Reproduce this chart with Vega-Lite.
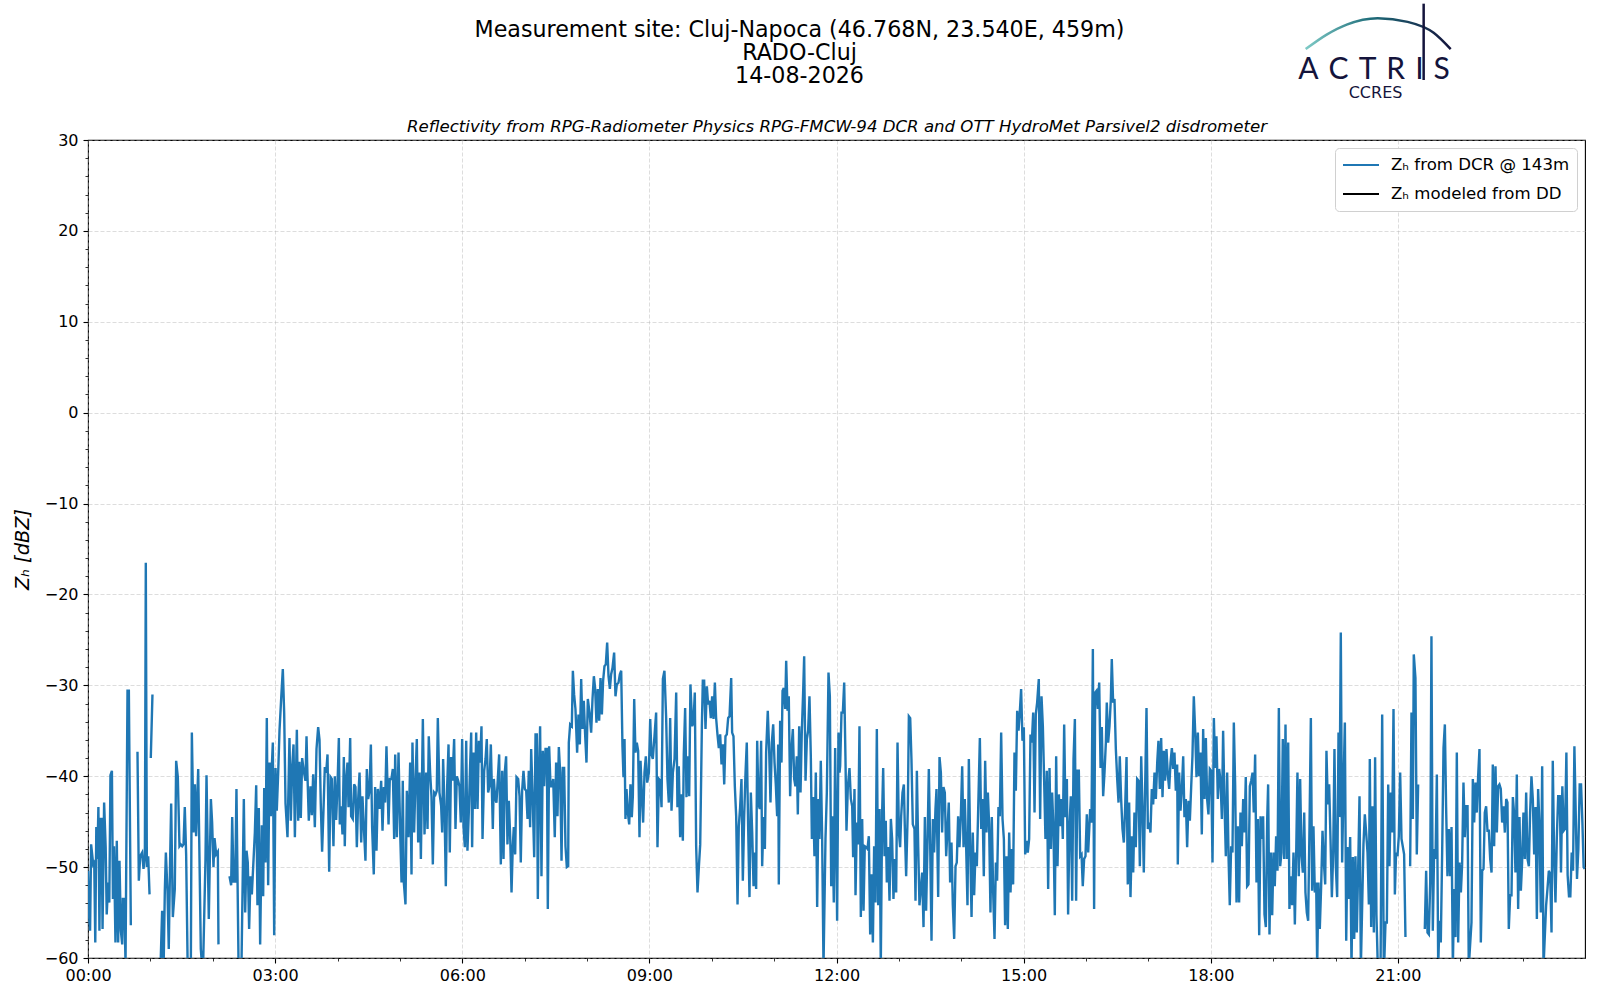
{
  "$schema": "https://vega.github.io/schema/vega-lite/v6.json",
  "width": 1497,
  "height": 818,
  "autosize": {"type": "none"},
  "padding": {"left": 88, "top": 140, "right": 15, "bottom": 42},
  "background": "white",
  "title": {
    "text": ["Measurement site: Cluj-Napoca (46.768N, 23.540E, 459m)", "RADO-Cluj", "14-08-2026"],
    "font": "DejaVu Sans",
    "fontSize": 22.2,
    "fontWeight": "normal",
    "lineHeight": 23,
    "color": "black",
    "anchor": "middle",
    "frame": "group",
    "dx": -37,
    "offset": -85
  },
  "config": {
    "font": "DejaVu Sans",
    "view": {"stroke": "black", "strokeWidth": 1.1},
    "axis": {
      "labelFont": "DejaVu Sans",
      "titleFont": "DejaVu Sans",
      "labelColor": "black",
      "titleColor": "black",
      "tickColor": "black",
      "domain": false,
      "gridColor": "#b0b0b0",
      "gridOpacity": 0.55,
      "gridDash": [4, 2],
      "gridWidth": 0.8
    },
    "legend": {
      "orient": "top-right",
      "offset": 8,
      "fillColor": "white",
      "strokeColor": "#d0d0d0",
      "cornerRadius": 4,
      "padding": 7,
      "symbolType": "stroke",
      "symbolSize": 1296,
      "symbolStrokeWidth": 2,
      "clipHeight": 20,
      "rowPadding": 9,
      "labelFont": "DejaVu Sans",
      "labelFontSize": 16.6,
      "labelColor": "black",
      "labelOffset": 11,
      "labelLimit": 400
    }
  },
  "datasets": {
    "dcr": [
      {"t":0,"z":-50.4},{"t":1,"z":-55.2},{"t":2,"z":-57},{"t":3,"z":-47.5},{"t":5,"z":-49.7},{"t":6,"z":-49.5},{"t":7,"z":-58.3},{"t":8,"z":-45.6},{"t":9,"z":-49.1},{"t":10,"z":-43.4},
      {"t":11,"z":-57},{"t":12,"z":-44.7},{"t":13,"z":-44.7},{"t":14,"z":-56.8},{"t":15.5,"z":-42.9},{"t":17,"z":-47.8},{"t":18,"z":-55.2},{"t":19.4,"z":-51.7},{"t":20.5,"z":-53.9},{"t":21.6,"z":-39.9},
      {"t":23,"z":-39.4},{"t":24,"z":-53.5},{"t":25,"z":-47.7},{"t":26.4,"z":-58.3},{"t":27.7,"z":-47.1},{"t":29,"z":-58.3},{"t":30.3,"z":-49.3},{"t":31.6,"z":-57},{"t":32.9,"z":-58.5},{"t":33.5,"z":-53.5},
      {"t":34.8,"z":-53.5},{"t":36.1,"z":-60.5},{"t":38,"z":-30.6},{"t":39.3,"z":-30.6},{"t":41.2,"z":-56.4},{"t":42,"z":null},{"t":47.6,"z":-37.3},{"t":48.9,"z":-51.5},{"t":50.2,"z":-48.8},{"t":52.1,"z":-48.4},
      {"t":53.4,"z":-50.2},{"t":54.7,"z":-48.8},{"t":55.6,"z":-16.5},{"t":56.6,"z":-50},{"t":57.9,"z":-48.8},{"t":59.2,"z":-53},{"t":60,"z":null},{"t":60.4,"z":-38},{"t":62,"z":-31},{"t":62.5,"z":null},
      {"t":69.5,"z":-62},{"t":71.3,"z":-54.8},{"t":72.6,"z":-62},{"t":73.9,"z":-52.6},{"t":74.9,"z":-48.4},{"t":76.5,"z":-52.8},{"t":77.7,"z":-59},{"t":79,"z":-49.1},{"t":80,"z":-43},{"t":81.6,"z":-55.5},
      {"t":83.5,"z":-52.4},{"t":84.8,"z":-38.3},{"t":86.4,"z":-40.1},{"t":88,"z":-47.7},{"t":89.3,"z":-47.5},{"t":90.6,"z":-47.7},{"t":91.9,"z":-47.5},{"t":93.1,"z":-43.4},{"t":94.4,"z":-48.6},{"t":96,"z":-62},
      {"t":98.9,"z":-62},{"t":99.9,"z":-35.2},{"t":101.5,"z":-46.2},{"t":102.8,"z":-40.9},{"t":104,"z":-46.6},{"t":106,"z":-39.2},{"t":108.5,"z":-59},{"t":110.5,"z":-62},{"t":113,"z":-49.2},{"t":114,"z":-39.9},
      {"t":116.2,"z":-55.7},{"t":118.2,"z":-42.5},{"t":119.4,"z":-45.1},{"t":120.7,"z":-50},{"t":121.7,"z":-46.8},{"t":123.3,"z":-48.6},{"t":124.9,"z":-48.3},{"t":125.5,"z":-58.5},{"t":126,"z":null},{"t":136.1,"z":-51},
      {"t":137.7,"z":-52},{"t":138.7,"z":-44.5},{"t":140,"z":-51.6},{"t":141.6,"z":-51.6},{"t":142.8,"z":-41.4},{"t":144.8,"z":-60.5},{"t":147.5,"z":-62},{"t":149.9,"z":-42.5},{"t":151.2,"z":-55},{"t":152.5,"z":-48.2},
      {"t":153.7,"z":-49.5},{"t":155,"z":-56.8},{"t":156.3,"z":-51},{"t":157.6,"z":-53},{"t":160.5,"z":-46.2},{"t":161.8,"z":-41},{"t":163,"z":-54.2},{"t":164.3,"z":-43.5},{"t":165.6,"z":-58.5},{"t":167.2,"z":-45.4},
      {"t":168.5,"z":-53.2},{"t":169.5,"z":-41.3},{"t":170.7,"z":-49.5},{"t":172,"z":-33.6},{"t":173.3,"z":-52},{"t":174.6,"z":-38.5},{"t":175.9,"z":-44.4},{"t":176.8,"z":-39},{"t":177.8,"z":-36.3},{"t":179.1,"z":-57.5},
      {"t":180.4,"z":-39.1},{"t":181.6,"z":-43.8},{"t":182.9,"z":-39.8},{"t":184.2,"z":-35},{"t":185.8,"z":-31.5},{"t":187.4,"z":-28.2},{"t":188.7,"z":-33},{"t":190,"z":-43},{"t":191.9,"z":-46.7},{"t":193.8,"z":-35.8},
      {"t":195.1,"z":-44.9},{"t":196.4,"z":-39},{"t":197.7,"z":-36.5},{"t":199,"z":-46.7},{"t":200.9,"z":-34.9},{"t":202.2,"z":-44.9},{"t":203.4,"z":-38.4},{"t":204.7,"z":-44.6},{"t":206,"z":-38},{"t":207.6,"z":-39.5},
      {"t":209.2,"z":-40.5},{"t":210.2,"z":-35.6},{"t":211.1,"z":-39.9},{"t":212.4,"z":-44.9},{"t":214,"z":-41.1},{"t":215.3,"z":-44.3},{"t":216.6,"z":-39.8},{"t":218.2,"z":-45.6},{"t":219.8,"z":-37},{"t":221.4,"z":-34.6},
      {"t":222.7,"z":-36},{"t":223.9,"z":-43},{"t":225.2,"z":-48.3},{"t":226.5,"z":-43.8},{"t":227.8,"z":-39},{"t":229.1,"z":-39.6},{"t":230.4,"z":-37.6},{"t":232,"z":-50.5},{"t":233.3,"z":-40.1},{"t":234.5,"z":-40.3},
      {"t":236.1,"z":-47.7},{"t":237.4,"z":-40},{"t":238.7,"z":-44.8},{"t":240,"z":-41},{"t":241.3,"z":-35.8},{"t":242.2,"z":-45.3},{"t":243.5,"z":-43.3},{"t":244.8,"z":-46.4},{"t":246.1,"z":-37.9},{"t":247,"z":-47.7},
      {"t":248.3,"z":-40.3},{"t":249.6,"z":-38.5},{"t":250.6,"z":-43.4},{"t":252.2,"z":-35.8},{"t":253.1,"z":-44.4},{"t":254.7,"z":-44.7},{"t":256,"z":-40.9},{"t":257.3,"z":-41.2},{"t":258.6,"z":-47.8},{"t":259.9,"z":-42.5},
      {"t":261.2,"z":-39.6},{"t":262.8,"z":-47.3},{"t":264,"z":-42.2},{"t":265.6,"z":-46.2},{"t":266.9,"z":-49.3},{"t":268.2,"z":-39.2},{"t":269.5,"z":-42.5},{"t":270.8,"z":-41.6},{"t":272.1,"z":-36.5},{"t":273.3,"z":-45.6},
      {"t":274.9,"z":-50.8},{"t":276.2,"z":-41.2},{"t":277.5,"z":-48.2},{"t":278.8,"z":-41.4},{"t":280.4,"z":-43.6},{"t":282,"z":-40.5},{"t":283.3,"z":-46},{"t":284.6,"z":-41.2},{"t":285.8,"z":-42.9},{"t":287.1,"z":-36.7},
      {"t":289.1,"z":-45.3},{"t":290.3,"z":-40.3},{"t":291.9,"z":-40.3},{"t":293.2,"z":-39.2},{"t":294.5,"z":-46.9},{"t":295.5,"z":-37.6},{"t":297.1,"z":-46.7},{"t":298.7,"z":-37.4},{"t":300.3,"z":-46.2},{"t":301.6,"z":-51.7},
      {"t":302.8,"z":-40.5},{"t":303.8,"z":-51.7},{"t":305.4,"z":-54.1},{"t":306.7,"z":-41.6},{"t":308.3,"z":-46.7},{"t":309.9,"z":-38.5},{"t":311.2,"z":-50.8},{"t":312.1,"z":-36.3},{"t":313.7,"z":-46.2},{"t":315,"z":-40.5},
      {"t":316.3,"z":-35.9},{"t":317.6,"z":-47.3},{"t":318.9,"z":-39.6},{"t":320.2,"z":-49.1},{"t":322.1,"z":-33.7},{"t":323.7,"z":-46.4},{"t":325.3,"z":-39.6},{"t":326.6,"z":-45.8},{"t":327.8,"z":-35.6},{"t":329.1,"z":-39.6},
      {"t":330.4,"z":-42.2},{"t":331.7,"z":-49.7},{"t":333,"z":-41.8},{"t":334.3,"z":-42},{"t":335.5,"z":-41.6},{"t":336.5,"z":-33.6},{"t":338.1,"z":-41.8},{"t":339.7,"z":-43.3},{"t":340.7,"z":-46.2},{"t":341.6,"z":-38.1},
      {"t":342.9,"z":-43.3},{"t":344.2,"z":-52.1},{"t":345.5,"z":-41.1},{"t":346.8,"z":-36.5},{"t":348,"z":-48.4},{"t":349.3,"z":-37.9},{"t":350.6,"z":-40.5},{"t":352.2,"z":-35.9},{"t":353.5,"z":-45.8},{"t":354.8,"z":-40},
      {"t":356.1,"z":-40.5},{"t":357.3,"z":-41.1},{"t":358.6,"z":-45.1},{"t":359.9,"z":-35.9},{"t":361.2,"z":-45.5},{"t":362.5,"z":-47.8},{"t":363.8,"z":-36.1},{"t":365,"z":-48.2},{"t":366.3,"z":-44},{"t":367.6,"z":-38.7},
      {"t":368.6,"z":-35.2},{"t":369.5,"z":-47.8},{"t":370.8,"z":-37.4},{"t":372.1,"z":-43.6},{"t":373.4,"z":-35.2},{"t":374.7,"z":-43.6},{"t":376,"z":-36.1},{"t":377.2,"z":-38.5},{"t":378.5,"z":-34.5},{"t":379.5,"z":-46.9},
      {"t":381.1,"z":-39.4},{"t":382.4,"z":-38.1},{"t":383.6,"z":-35.9},{"t":384.9,"z":-41.8},{"t":386.2,"z":-41.1},{"t":387.5,"z":-36.5},{"t":389.4,"z":-45.8},{"t":390.4,"z":-40.3},{"t":391.7,"z":-42.5},{"t":392.9,"z":-42.9},
      {"t":394.2,"z":-40.3},{"t":395.5,"z":-37.6},{"t":397.1,"z":-49.7},{"t":398.4,"z":-39.4},{"t":399.7,"z":-49.1},{"t":400.9,"z":-39.6},{"t":402.2,"z":-37.8},{"t":403.5,"z":-47.5},{"t":404.8,"z":-42.7},{"t":406.1,"z":-46.6},
      {"t":407.4,"z":-52.8},{"t":408.6,"z":-47.7},{"t":409.6,"z":-45.6},{"t":410.9,"z":-48.6},{"t":412.2,"z":-40.1},{"t":413.8,"z":-40.3},{"t":415.1,"z":-42.2},{"t":416.3,"z":-49.5},{"t":417.6,"z":-41.6},{"t":418.9,"z":-39.4},
      {"t":420.2,"z":-41.4},{"t":421.5,"z":-41.6},{"t":422.8,"z":-44.7},{"t":424,"z":-39.4},{"t":425.3,"z":-45.6},{"t":426.3,"z":-37},{"t":427.9,"z":-43.1},{"t":429.2,"z":-48.9},{"t":430.5,"z":-35.4},{"t":431.7,"z":-35.4},
      {"t":432.7,"z":-53.5},{"t":434,"z":-38.7},{"t":434.9,"z":-34.5},{"t":436.2,"z":-51},{"t":437.5,"z":-37.2},{"t":438.8,"z":-41.1},{"t":440.1,"z":-37},{"t":441.4,"z":-37},{"t":442.3,"z":-54.6},{"t":443.6,"z":-36.7},
      {"t":444.9,"z":-41.1},{"t":446.2,"z":-41.1},{"t":447.5,"z":-40.3},{"t":449,"z":-46.7},{"t":450.3,"z":-38.5},{"t":451.6,"z":-44.4},{"t":452.9,"z":-36.8},{"t":454.2,"z":-39.6},{"t":455.5,"z":-49.3},{"t":456.7,"z":-39.1},
      {"t":458,"z":-39.1},{"t":459.3,"z":-47.7},{"t":460.6,"z":-50},{"t":461.9,"z":-49.9},{"t":462.5,"z":-36.3},{"t":463.8,"z":-34.3},{"t":465.4,"z":-34.5},{"t":466.4,"z":-28.4},{"t":467.6,"z":-31},{"t":468.9,"z":-32.6},
      {"t":470.5,"z":-37.4},{"t":471.8,"z":-33.2},{"t":473.1,"z":-36.5},{"t":474.4,"z":-29.3},{"t":475.7,"z":-34.8},{"t":476.9,"z":-31.7},{"t":478.2,"z":-35.4},{"t":479.5,"z":-38.5},{"t":480.8,"z":-31.5},{"t":482.4,"z":-33},
      {"t":484,"z":-35.2},{"t":485.3,"z":-31.5},{"t":486.6,"z":-29},{"t":487.8,"z":-30.3},{"t":489.1,"z":-34.1},{"t":490.4,"z":-30.4},{"t":491.7,"z":-33.9},{"t":493,"z":-29.2},{"t":494.3,"z":-33.2},{"t":495.5,"z":-29.5},
      {"t":496.8,"z":-27.9},{"t":498.1,"z":-27.7},{"t":499.4,"z":-25.3},{"t":500.7,"z":-29},{"t":502,"z":-30.4},{"t":503.2,"z":-28.8},{"t":504.5,"z":-28.1},{"t":506.1,"z":-26.4},{"t":507.4,"z":-31.2},{"t":508.7,"z":-29.9},
      {"t":510.3,"z":-29.7},{"t":511.6,"z":-28.8},{"t":512.9,"z":-28.4},{"t":514.1,"z":-36.7},{"t":515.1,"z":-40.1},{"t":516.1,"z":-35.9},{"t":517,"z":-44.7},{"t":518,"z":-41.4},{"t":519.3,"z":-44},{"t":520.6,"z":-45.3},
      {"t":521.8,"z":-40.9},{"t":523.1,"z":-44.5},{"t":524.1,"z":-42.2},{"t":525.4,"z":-31.5},{"t":526.6,"z":-37.4},{"t":527.9,"z":-36.3},{"t":529.2,"z":-37.2},{"t":530.5,"z":-46.7},{"t":531.5,"z":-38.3},{"t":532.7,"z":-42},
      {"t":534,"z":-45.1},{"t":535.3,"z":-39.6},{"t":536.6,"z":-37.8},{"t":537.9,"z":-40.7},{"t":539.5,"z":-39.6},{"t":540.8,"z":-33.7},{"t":542,"z":-37.6},{"t":543.3,"z":-38.1},{"t":544.9,"z":-35.6},{"t":546.5,"z":-33},
      {"t":547.8,"z":-47.8},{"t":549.1,"z":-40.3},{"t":550.4,"z":-40.5},{"t":551.7,"z":-43.4},{"t":553,"z":-29.3},{"t":554.5,"z":-28.4},{"t":556.1,"z":-33.4},{"t":557.4,"z":-40.3},{"t":558.7,"z":-42.9},{"t":560,"z":-33.6},
      {"t":561.3,"z":-43.8},{"t":562.6,"z":-39.6},{"t":564.2,"z":-38.1},{"t":565.8,"z":-30.8},{"t":567,"z":-43.4},{"t":568.3,"z":-38.9},{"t":569.6,"z":-46.7},{"t":570.9,"z":-42},{"t":572.2,"z":-47.1},{"t":573.1,"z":-37.6},
      {"t":574.4,"z":-32.5},{"t":575.7,"z":-42.3},{"t":577,"z":-37.8},{"t":578.3,"z":-42.2},{"t":579.5,"z":-29.9},{"t":581.2,"z":-34.5},{"t":582.4,"z":-34.1},{"t":583.7,"z":-30.8},{"t":585,"z":-47.7},{"t":586.3,"z":-52.8},
      {"t":587.6,"z":-50},{"t":588.9,"z":-47.5},{"t":590.5,"z":-34.5},{"t":591.4,"z":-29.5},{"t":592.7,"z":-29.5},{"t":594,"z":-34.8},{"t":595.3,"z":-30.1},{"t":596.5,"z":-32.1},{"t":597.8,"z":-31.7},{"t":599.1,"z":-33.6},
      {"t":600.4,"z":-31.2},{"t":601.7,"z":-33.7},{"t":603,"z":-29.7},{"t":604.2,"z":-33.6},{"t":605.5,"z":-35.4},{"t":606.8,"z":-36.9},{"t":608.1,"z":-35.4},{"t":609.4,"z":-38.7},{"t":610.7,"z":-36.5},{"t":612,"z":-40.9},
      {"t":613.2,"z":-35.6},{"t":614.5,"z":-35.4},{"t":615.8,"z":-33.6},{"t":617.1,"z":-33.4},{"t":618.7,"z":-29.2},{"t":619.6,"z":-35.2},{"t":620.9,"z":-35.6},{"t":622.2,"z":-41.1},{"t":623.5,"z":-44.4},{"t":624.8,"z":-54.1},
      {"t":626,"z":-45.5},{"t":627.3,"z":-43.4},{"t":628.6,"z":-40.3},{"t":629.9,"z":-51.5},{"t":631.2,"z":-44.4},{"t":632.5,"z":-39.6},{"t":633.7,"z":-36.3},{"t":635,"z":-45.5},{"t":636.3,"z":-53.3},{"t":637.6,"z":-41.8},
      {"t":638.9,"z":-46.2},{"t":640.2,"z":-52.1},{"t":641.4,"z":-48.4},{"t":642.7,"z":-52.4},{"t":643.7,"z":-36.1},{"t":645,"z":-43.1},{"t":646.2,"z":-43.6},{"t":647.5,"z":-36.1},{"t":648.5,"z":-49.9},{"t":649.8,"z":-44.5},
      {"t":651.1,"z":-48},{"t":652.3,"z":-37.4},{"t":653.9,"z":-32.8},{"t":655.2,"z":-37},{"t":656.5,"z":-42.9},{"t":657.8,"z":-36.3},{"t":659.1,"z":-34.3},{"t":660.4,"z":-38.5},{"t":661.6,"z":-40.9},{"t":662.9,"z":-44.4},
      {"t":663.9,"z":-36.5},{"t":664.5,"z":-51.9},{"t":665.8,"z":-33.9},{"t":667.1,"z":-38.5},{"t":668.1,"z":-30.6},{"t":669.3,"z":-30.3},{"t":670.6,"z":-32.6},{"t":671.6,"z":-27.3},{"t":672.9,"z":-32.8},{"t":674.1,"z":-31.2},
      {"t":675.4,"z":-42.2},{"t":676.7,"z":-37},{"t":678,"z":-34.8},{"t":679.3,"z":-40.3},{"t":680.5,"z":-41.1},{"t":681.8,"z":-37.8},{"t":682.8,"z":-44.2},{"t":684.1,"z":-34.5},{"t":685.4,"z":-41.8},{"t":686.6,"z":-35.2},
      {"t":687.9,"z":-30.8},{"t":688.9,"z":-26.8},{"t":690.2,"z":-40.5},{"t":691.5,"z":-35.9},{"t":692.7,"z":-35},{"t":694,"z":-31.2},{"t":695.3,"z":-37.8},{"t":696.3,"z":-46.9},{"t":697.5,"z":-42.3},{"t":698.8,"z":-48.8},
      {"t":700.1,"z":-39.6},{"t":701.4,"z":-54.4},{"t":702.7,"z":-42.5},{"t":703.6,"z":-46.9},{"t":704.9,"z":-38.3},{"t":706.2,"z":-46.9},{"t":707.5,"z":-61},{"t":709.4,"z":-46.9},{"t":710.7,"z":-41.8},{"t":712.3,"z":-28.6},
      {"t":713.6,"z":-31.2},{"t":714.9,"z":-52.1},{"t":716.1,"z":-44.4},{"t":717.4,"z":-53.9},{"t":718.7,"z":-36.9},{"t":720.6,"z":-55.9},{"t":721.9,"z":-35.2},{"t":722.9,"z":-39.6},{"t":723.5,"z":-38.9},{"t":724.8,"z":-33},
      {"t":726.1,"z":-33},{"t":727.4,"z":-29.7},{"t":728.6,"z":-37.8},{"t":729.6,"z":-46},{"t":730.9,"z":-41.2},{"t":732.5,"z":-39.1},{"t":733.8,"z":-42.5},{"t":735.1,"z":-43.3},{"t":736,"z":-48.9},{"t":737.3,"z":-41.4},
      {"t":738.3,"z":-53.1},{"t":739.6,"z":-45.1},{"t":740.8,"z":-47.5},{"t":742.1,"z":-34.5},{"t":743.4,"z":-55.5},{"t":744.7,"z":-44.7},{"t":746,"z":-54.8},{"t":747.2,"z":-47.7},{"t":748.5,"z":-47.8},{"t":749.8,"z":-48},
      {"t":751.1,"z":-46.6},{"t":752.4,"z":-57.4},{"t":753.7,"z":-50.8},{"t":755,"z":-58.3},{"t":756.2,"z":-47.7},{"t":757.5,"z":-53.9},{"t":758.8,"z":-34.8},{"t":760.1,"z":-54.2},{"t":761.4,"z":-43.6},{"t":762.6,"z":-61},
      {"t":763.9,"z":-44},{"t":764.9,"z":-39.1},{"t":766.2,"z":-48.8},{"t":767.4,"z":-44.9},{"t":768.4,"z":-51.7},{"t":769.7,"z":-47.8},{"t":771,"z":-53.7},{"t":772.3,"z":-44.7},{"t":773.5,"z":-46.9},{"t":774.8,"z":-53.5},
      {"t":776.1,"z":-49.1},{"t":777.4,"z":-52.8},{"t":778.7,"z":-36.3},{"t":780,"z":-46.2},{"t":781.2,"z":-47.8},{"t":782.2,"z":-44.4},{"t":783.5,"z":-41.8},{"t":784.8,"z":-40.9},{"t":785.7,"z":-45.5},{"t":787,"z":-51},
      {"t":788.6,"z":-43.6},{"t":789.6,"z":-33.4},{"t":790.9,"z":-33.6},{"t":792.1,"z":-38.1},{"t":793.4,"z":-45.3},{"t":795,"z":-45.8},{"t":796,"z":-53.7},{"t":797.3,"z":-39.4},{"t":798.6,"z":-47.8},{"t":799.8,"z":-54.2},
      {"t":801.1,"z":-52.4},{"t":802.4,"z":-50.6},{"t":803.7,"z":-56.6},{"t":805,"z":-44.5},{"t":806.2,"z":-54.8},{"t":807.5,"z":-47.7},{"t":808.8,"z":-39.2},{"t":810.1,"z":-47.5},{"t":811.4,"z":-58.1},{"t":812.7,"z":-44.7},
      {"t":813.9,"z":-48.4},{"t":815.2,"z":-43.6},{"t":816.2,"z":-41.4},{"t":817.8,"z":-53.3},{"t":819.1,"z":-37.9},{"t":820.4,"z":-39.6},{"t":821.6,"z":-46.2},{"t":822.9,"z":-41.2},{"t":824.2,"z":-41.8},{"t":825.5,"z":-48.8},
      {"t":826.8,"z":-45.8},{"t":828,"z":-42.9},{"t":829.3,"z":-51.7},{"t":830.6,"z":-47.3},{"t":831.9,"z":-54.2},{"t":833.2,"z":-57.9},{"t":834.5,"z":-49.9},{"t":835.7,"z":-49.5},{"t":837,"z":-44.4},{"t":838.3,"z":-47.8},
      {"t":839.6,"z":-44.4},{"t":840.9,"z":-38.9},{"t":842.2,"z":-47.8},{"t":843.4,"z":-42.5},{"t":844.7,"z":-47.7},{"t":846,"z":-54.2},{"t":847.3,"z":-38.1},{"t":848.6,"z":-47.7},{"t":849.9,"z":-55.5},{"t":851.1,"z":-46.2},
      {"t":852.4,"z":-53.1},{"t":853.7,"z":-48.4},{"t":855,"z":-49.9},{"t":856.3,"z":-43.6},{"t":857.9,"z":-35.8},{"t":859.2,"z":-45.8},{"t":860.4,"z":-42.5},{"t":861.7,"z":-51},{"t":863,"z":-38.3},{"t":864.3,"z":-46.2},
      {"t":865.6,"z":-41.8},{"t":866.8,"z":-45.3},{"t":868.1,"z":-55},{"t":869.4,"z":-44.5},{"t":870.7,"z":-52.8},{"t":872,"z":-57.9},{"t":873.3,"z":-49.5},{"t":874.5,"z":-51.5},{"t":875.8,"z":-43.4},{"t":877.1,"z":-44.4},
      {"t":878.4,"z":-35.2},{"t":879.7,"z":-44.7},{"t":881,"z":-46.9},{"t":882.2,"z":-56.4},{"t":883.5,"z":-48.8},{"t":884.8,"z":-56.8},{"t":886.1,"z":-46.2},{"t":887.4,"z":-52.8},{"t":888.6,"z":-48},{"t":889.9,"z":-51.9},
      {"t":891.2,"z":-37.4},{"t":892.5,"z":-41.6},{"t":893.8,"z":-32.8},{"t":895.1,"z":-35},{"t":896.3,"z":-33},{"t":897.6,"z":-30.4},{"t":898.9,"z":-36.1},{"t":900.2,"z":-34.6},{"t":901.5,"z":-48.6},{"t":902.8,"z":-47.1},
      {"t":904,"z":-48.4},{"t":905.3,"z":-46.9},{"t":906.6,"z":-35.4},{"t":907.9,"z":-36.3},{"t":909.2,"z":-33},{"t":910.5,"z":-44},{"t":911.7,"z":-33.2},{"t":913,"z":-31.9},{"t":914.6,"z":-29.3},{"t":915.9,"z":-44.7},
      {"t":917.2,"z":-31.2},{"t":918.5,"z":-34.5},{"t":919.7,"z":-40.3},{"t":921,"z":-46.9},{"t":922.3,"z":-39.4},{"t":923.6,"z":-52.4},{"t":924.9,"z":-39.1},{"t":926.2,"z":-48},{"t":927.4,"z":-41.8},{"t":928.7,"z":-45.8},
      {"t":930,"z":-55.3},{"t":931.3,"z":-37.8},{"t":932.6,"z":-49.9},{"t":933.9,"z":-42},{"t":935.1,"z":-45.5},{"t":936.4,"z":-42.5},{"t":937.7,"z":-46.9},{"t":939,"z":-34.3},{"t":940.3,"z":-44.5},{"t":941.6,"z":-40.3},
      {"t":942.8,"z":-55.2},{"t":944.1,"z":-45.5},{"t":945.4,"z":-42.2},{"t":946.7,"z":-53.7},{"t":948,"z":-38.1},{"t":949.3,"z":-33.7},{"t":950.5,"z":-53.7},{"t":951.8,"z":-39.4},{"t":953.1,"z":-39.4},{"t":954.4,"z":-48.8},
      {"t":955.7,"z":-48.6},{"t":956.9,"z":-52.1},{"t":958.2,"z":-49.1},{"t":959.5,"z":-48.8},{"t":960.8,"z":-44.2},{"t":962.1,"z":-48.4},{"t":964,"z":-43.6},{"t":965.3,"z":-45.1},{"t":966.6,"z":-26},{"t":967.8,"z":-54.6},
      {"t":968.8,"z":-30.8},{"t":970.1,"z":-30.6},{"t":971.4,"z":-32.6},{"t":972.7,"z":-29.7},{"t":974,"z":-39.1},{"t":975.2,"z":-34.6},{"t":976.5,"z":-42.2},{"t":977.8,"z":-39.6},{"t":979.1,"z":-36.3},{"t":980,"z":-31.9},
      {"t":981.3,"z":-36.3},{"t":982.6,"z":-34.5},{"t":983.9,"z":-31.5},{"t":984.8,"z":-27.1},{"t":986.1,"z":-31.9},{"t":987.4,"z":-31.5},{"t":988.7,"z":-37},{"t":990,"z":-40.3},{"t":991.3,"z":-42.9},{"t":992.5,"z":-37.8},
      {"t":993.8,"z":-42.5},{"t":995.1,"z":-45.8},{"t":996.4,"z":-47.3},{"t":997.7,"z":-43.3},{"t":999,"z":-37.9},{"t":1000.2,"z":-51.9},{"t":1001.5,"z":-42.9},{"t":1002.8,"z":-53.3},{"t":1004.1,"z":-46.6},{"t":1005.4,"z":-50.6},
      {"t":1006.6,"z":-44},{"t":1007.9,"z":-47.8},{"t":1009.2,"z":-40.3},{"t":1010.5,"z":-40.5},{"t":1011.8,"z":-49.9},{"t":1013.1,"z":-37.8},{"t":1014.3,"z":-43.3},{"t":1015.6,"z":-50.6},{"t":1016.9,"z":-41.2},{"t":1018.2,"z":-32.5},
      {"t":1019.5,"z":-45.8},{"t":1020.8,"z":-45.1},{"t":1022,"z":-46.2},{"t":1023.3,"z":-41.4},{"t":1024.6,"z":-43.1},{"t":1025.9,"z":-39.6},{"t":1027.2,"z":-42.5},{"t":1028.5,"z":-38.5},{"t":1029.7,"z":-36.1},{"t":1031,"z":-41.4},
      {"t":1032.3,"z":-35.8},{"t":1033.6,"z":-42.3},{"t":1034.9,"z":-37.2},{"t":1036.1,"z":-40.5},{"t":1037.4,"z":-37},{"t":1038.7,"z":-39.8},{"t":1040,"z":-41.4},{"t":1041.3,"z":-38.5},{"t":1042.6,"z":-36.9},{"t":1043.8,"z":-39.2},
      {"t":1045.1,"z":-37.4},{"t":1046.4,"z":-41.6},{"t":1047.7,"z":-38.7},{"t":1048.3,"z":-49.7},{"t":1049.6,"z":-39.6},{"t":1050.9,"z":-43.8},{"t":1052.2,"z":-41.4},{"t":1053.5,"z":-37.8},{"t":1054.7,"z":-44.5},{"t":1056,"z":-42.5},
      {"t":1057.3,"z":-47.8},{"t":1058.6,"z":-42.7},{"t":1059.9,"z":-44.9},{"t":1061.2,"z":-41.1},{"t":1062.4,"z":-37.8},{"t":1063.7,"z":-31.2},{"t":1065,"z":-35},{"t":1066.3,"z":-40.1},{"t":1067.6,"z":-35.2},{"t":1068.8,"z":-40},
      {"t":1070.1,"z":-37.4},{"t":1071.4,"z":-46.4},{"t":1072.7,"z":-34.8},{"t":1074,"z":-42.5},{"t":1075.3,"z":-35.8},{"t":1076.5,"z":-42.5},{"t":1077.8,"z":-44.2},{"t":1079.1,"z":-39.2},{"t":1080.4,"z":-39.4},{"t":1081.7,"z":-49.5},
      {"t":1083,"z":-33.6},{"t":1084.2,"z":-39.1},{"t":1085.5,"z":-35.6},{"t":1086.8,"z":-42.5},{"t":1088.1,"z":-39.2},{"t":1089.4,"z":-40.5},{"t":1090.7,"z":-44.7},{"t":1091.9,"z":-35},{"t":1093.2,"z":-42.9},{"t":1094.5,"z":-48.8},
      {"t":1095.8,"z":-39.6},{"t":1097.1,"z":-48.8},{"t":1098.3,"z":-54.2},{"t":1099.6,"z":-47.7},{"t":1100.9,"z":-48.4},{"t":1102.2,"z":-34.1},{"t":1103.5,"z":-41.1},{"t":1104.8,"z":-53.9},{"t":1106,"z":-45.5},{"t":1107.3,"z":-53.9},
      {"t":1108.6,"z":-44},{"t":1109.9,"z":-47.7},{"t":1111.2,"z":-42.5},{"t":1112.5,"z":-46.2},{"t":1113.7,"z":-40.1},{"t":1115,"z":-52.1},{"t":1116.3,"z":-51.9},{"t":1117.6,"z":-41.1},{"t":1118.9,"z":-40.5},{"t":1120.2,"z":-39.6},
      {"t":1121.4,"z":-44},{"t":1122.7,"z":-37.6},{"t":1124,"z":-51.7},{"t":1125.3,"z":-44.7},{"t":1126.6,"z":-57.5},{"t":1127.9,"z":-44.4},{"t":1129.1,"z":-46.9},{"t":1130.4,"z":-44.4},{"t":1131.7,"z":-55.2},{"t":1133,"z":-56.6},
      {"t":1134.3,"z":-44.7},{"t":1135.2,"z":-40.9},{"t":1136.5,"z":-57.4},{"t":1137.8,"z":-48.4},{"t":1139.1,"z":-55.3},{"t":1140.4,"z":-48.4},{"t":1141.6,"z":-52.1},{"t":1142.9,"z":-46.6},{"t":1144.2,"z":-50.4},{"t":1145.5,"z":-32.5},
      {"t":1146.8,"z":-49.9},{"t":1148,"z":-48.4},{"t":1149.3,"z":-35.9},{"t":1150.6,"z":-49.1},{"t":1151.9,"z":-34.3},{"t":1153.2,"z":-49.1},{"t":1154.5,"z":-36.3},{"t":1155.7,"z":-54.6},{"t":1157,"z":-51},{"t":1158.3,"z":-54.2},
      {"t":1159.6,"z":-48.4},{"t":1160.9,"z":-56.3},{"t":1162.2,"z":-48.4},{"t":1163.4,"z":-39.6},{"t":1164.7,"z":-51},{"t":1166,"z":-40.3},{"t":1167.3,"z":-48.8},{"t":1168.6,"z":-50.6},{"t":1169.9,"z":-44},{"t":1171.1,"z":-52.8},
      {"t":1172.4,"z":-55},{"t":1173.7,"z":-55.9},{"t":1175,"z":-45.5},{"t":1176.3,"z":-33.6},{"t":1177.5,"z":-52.6},{"t":1178.8,"z":-45.5},{"t":1180.1,"z":-52.8},{"t":1181.4,"z":-51.7},{"t":1182.4,"z":-61},{"t":1183.6,"z":-51.7},
      {"t":1184.9,"z":-56.8},{"t":1186.2,"z":-52.1},{"t":1187.5,"z":-46},{"t":1188.8,"z":-49.5},{"t":1190.1,"z":-51.9},{"t":1191.3,"z":-37.2},{"t":1192.6,"z":-43.1},{"t":1193.9,"z":-40.9},{"t":1195.2,"z":-46.9},{"t":1196.5,"z":-53.3},
      {"t":1197.8,"z":-48.4},{"t":1199,"z":-37},{"t":1200.3,"z":-49.9},{"t":1201.6,"z":-53.3},{"t":1202.9,"z":-35.2},{"t":1203.8,"z":-44.5},{"t":1205.1,"z":-24.2},{"t":1206.4,"z":-49.5},{"t":1207.7,"z":-41.1},{"t":1209,"z":-34.1},
      {"t":1210.3,"z":-58.1},{"t":1211.5,"z":-47.8},{"t":1212.8,"z":-53.5},{"t":1214.1,"z":-46.7},{"t":1215.4,"z":-61},{"t":1216.7,"z":-48.9},{"t":1218,"z":-57.9},{"t":1219.2,"z":-48.8},{"t":1220.5,"z":-57.2},{"t":1221.8,"z":-50.2},
      {"t":1223.1,"z":-42.2},{"t":1224.4,"z":-61},{"t":1226.9,"z":-47.5},{"t":1228.2,"z":-44.2},{"t":1229.5,"z":-46.2},{"t":1230.8,"z":-48.4},{"t":1232.1,"z":-54.1},{"t":1233,"z":-38.1},{"t":1234.3,"z":-56.6},{"t":1235.6,"z":-43.3},
      {"t":1236.9,"z":-57.2},{"t":1238.1,"z":-37.9},{"t":1239.4,"z":-55.3},{"t":1240.7,"z":-61},{"t":1243.3,"z":-62},{"t":1244.9,"z":-33.2},{"t":1246.5,"z":-62},{"t":1248.1,"z":-56.1},{"t":1249.4,"z":-56.1},{"t":1250.7,"z":-40.9},
      {"t":1251.9,"z":-49.9},{"t":1253.2,"z":-41.8},{"t":1254.5,"z":-46.2},{"t":1255.8,"z":-32.6},{"t":1257.1,"z":-53},{"t":1258.3,"z":-48.4},{"t":1259.6,"z":-48.8},{"t":1260.9,"z":-46.6},{"t":1262.2,"z":-39.6},{"t":1263.5,"z":-46.9},
      {"t":1266,"z":-48.6},{"t":1267.3,"z":-57.7},{"t":1268,"z":null},{"t":1271.8,"z":-49.9},{"t":1273.1,"z":-33},{"t":1274.4,"z":-44.7},{"t":1275.3,"z":-26.6},{"t":1276.9,"z":-29.2},{"t":1278.2,"z":-48.6},{"t":1279.5,"z":-40.9},
      {"t":1280,"z":null},{"t":1285.9,"z":-56.8},{"t":1287.2,"z":-50.4},{"t":1288.5,"z":-57.2},{"t":1289.8,"z":-57.4},{"t":1291.1,"z":-51.7},{"t":1292.3,"z":-24.6},{"t":1293.6,"z":-57},{"t":1294.9,"z":-48},{"t":1296.2,"z":-49.1},
      {"t":1297.5,"z":-39.8},{"t":1298.8,"z":-61},{"t":1300,"z":-55.9},{"t":1301.3,"z":-58.3},{"t":1302.6,"z":-48.4},{"t":1303.9,"z":-36.9},{"t":1305.2,"z":-34.3},{"t":1306.4,"z":-43.4},{"t":1307.7,"z":-51},{"t":1309,"z":-45.8},
      {"t":1310.3,"z":-51},{"t":1311.6,"z":-45.6},{"t":1312.9,"z":-61},{"t":1314.1,"z":-52.4},{"t":1315.4,"z":-57.7},{"t":1316.7,"z":-37.4},{"t":1318,"z":-58.3},{"t":1319.3,"z":-49.5},{"t":1320.6,"z":-52.8},{"t":1321.8,"z":-49.7},
      {"t":1323.1,"z":-40.7},{"t":1324.4,"z":-46.7},{"t":1325.7,"z":-43.3},{"t":1327,"z":-43.3},{"t":1328.2,"z":-61},{"t":1330.8,"z":-56.1},{"t":1332.1,"z":-40.3},{"t":1333.4,"z":-45.1},{"t":1334.7,"z":-40.7},{"t":1335.9,"z":-44},
      {"t":1337.2,"z":-40},{"t":1338.5,"z":-37},{"t":1339.8,"z":-58.3},{"t":1341.1,"z":-50.4},{"t":1342.4,"z":-50.2},{"t":1343.6,"z":-44},{"t":1344.9,"z":-43.3},{"t":1346.2,"z":-46},{"t":1347.5,"z":-46},{"t":1348.8,"z":-49.1},
      {"t":1350.1,"z":-50.6},{"t":1351.3,"z":-38.7},{"t":1352.6,"z":-47.7},{"t":1353.9,"z":-38.9},{"t":1355.2,"z":-46.2},{"t":1356.5,"z":-41.1},{"t":1357.7,"z":-40.9},{"t":1359,"z":-41.4},{"t":1360.3,"z":-45.1},{"t":1361.6,"z":-43.3},
      {"t":1362.9,"z":-46.2},{"t":1364.2,"z":-42.5},{"t":1365.4,"z":-42.9},{"t":1366.7,"z":-56.8},{"t":1368,"z":-53.1},{"t":1369.3,"z":-53.1},{"t":1370.6,"z":-42.3},{"t":1371.9,"z":-44.2},{"t":1373.1,"z":-50.6},{"t":1374.4,"z":-39.8},
      {"t":1375.7,"z":-54.6},{"t":1377,"z":-44.5},{"t":1378.3,"z":-52.6},{"t":1379.5,"z":-49.5},{"t":1380.8,"z":-44},{"t":1382.1,"z":-49.1},{"t":1383.4,"z":-41.8},{"t":1384.7,"z":-49.1},{"t":1386,"z":-49.9},{"t":1387.2,"z":-44},
      {"t":1388.5,"z":-40},{"t":1389.8,"z":-42.5},{"t":1391.1,"z":-48.6},{"t":1392.4,"z":-43.4},{"t":1393.7,"z":-55.7},{"t":1394.9,"z":-41.4},{"t":1396.2,"z":-45.5},{"t":1397.5,"z":-55},{"t":1398.8,"z":-38.9},{"t":1400.1,"z":-61},
      {"t":1402.6,"z":-54.2},{"t":1403.9,"z":-52.4},{"t":1405.2,"z":-50.4},{"t":1406.5,"z":-50.8},{"t":1407.8,"z":-57.2},{"t":1409,"z":-38.3},{"t":1410.3,"z":-48.8},{"t":1411.6,"z":-53.9},{"t":1412.9,"z":-46.7},{"t":1414.2,"z":-42.2},
      {"t":1415.7,"z":-42.2},{"t":1416.9,"z":-50.6},{"t":1418.2,"z":-41.1},{"t":1419.5,"z":-46},{"t":1420.8,"z":-45.8},{"t":1422.1,"z":-37.4},{"t":1423.3,"z":-50.9},{"t":1424.6,"z":-53.2},{"t":1425.9,"z":-53.2},{"t":1427.2,"z":-48.4},
      {"t":1428.5,"z":-50.4},{"t":1429.8,"z":-36.7},{"t":1431,"z":-43.6},{"t":1432.3,"z":-51.3},{"t":1433.6,"z":-48},{"t":1434.9,"z":-40.9},{"t":1436.2,"z":-40.9},{"t":1437.5,"z":-45.1},{"t":1438.7,"z":-50},{"t":1439.7,"z":-50.2}
    ],
    "arc": [
      {"t":1171.3,"z":40.0},{"t":1191.5,"z":41.6},{"t":1210.8,"z":42.7},{"t":1240.6,"z":43.4},{"t":1269.4,"z":43.0},{"t":1294.4,"z":41.8},{"t":1310.8,"z":40.0}
    ]
  },
  "resolve": {"axis": {"x": "independent", "y": "independent"}},
  "layer": [
    {
      "data": {"name": "dcr"},
      "mark": {"type": "line", "strokeWidth": 2.4, "clip": true, "invalid": "break-paths-filter-domains"},
      "encoding": {
        "x": {
          "field": "t",
          "type": "quantitative",
          "scale": {"domain": [0, 1440], "nice": false, "zero": false},
          "axis": {
            "values": [0, 180, 360, 540, 720, 900, 1080, 1260],
            "labelExpr": "format(datum.value / 60, '02d') + ':00'",
            "labelFontSize": 16,
            "labelFlush": false,
            "labelPadding": 4,
            "tickSize": 5,
            "tickWidth": 1.1,
            "grid": true,
            "title": null
          }
        },
        "y": {
          "field": "z",
          "type": "quantitative",
          "scale": {"domain": [-60, 30], "nice": false, "zero": false},
          "axis": {
            "values": [-60, -50, -40, -30, -20, -10, 0, 10, 20, 30],
            "labelFontSize": 16,
            "labelPadding": 5,
            "tickSize": 5,
            "tickWidth": 1.1,
            "grid": true,
            "title": "Zₕ [dBZ]",
            "titleFontSize": 19.4,
            "titleFontStyle": "italic",
            "titleFontWeight": "normal",
            "titlePadding": 12
          }
        },
        "color": {
          "datum": "Zₕ from DCR @ 143m",
          "scale": {"domain": ["Zₕ from DCR @ 143m", "Zₕ modeled from DD"], "range": ["#1f77b4", "#000000"]},
          "legend": {"title": null}
        }
      }
    },
    {
      "data": {"name": "dcr"},
      "mark": {"type": "line", "strokeOpacity": 0},
      "encoding": {
        "x": {
          "field": "t",
          "type": "quantitative",
          "axis": {
            "orient": "bottom",
            "values": [60, 120, 240, 300, 420, 480, 600, 660, 780, 840, 960, 1020, 1140, 1200, 1320, 1380],
            "labels": false,
            "tickSize": 3,
            "tickWidth": 0.8,
            "grid": false,
            "title": null
          }
        },
        "y": {
          "field": "z",
          "type": "quantitative",
          "axis": {
            "orient": "left",
            "values": [-58, -56, -54, -52, -48, -46, -44, -42, -38, -36, -34, -32, -28, -26, -24, -22, -18, -16, -14, -12, -8, -6, -4, -2, 2, 4, 6, 8, 12, 14, 16, 18, 22, 24, 26, 28],
            "labels": false,
            "tickSize": 3,
            "tickWidth": 0.8,
            "grid": false,
            "title": null
          }
        }
      }
    },
    {
      "data": {"name": "dcr"},
      "mark": {"type": "line", "strokeOpacity": 0},
      "encoding": {
        "x": {
          "field": "t",
          "type": "quantitative",
          "axis": {
            "orient": "top",
            "labels": false,
            "ticks": false,
            "grid": false,
            "title": "Reflectivity from RPG-Radiometer Physics RPG-FMCW-94 DCR and OTT HydroMet Parsivel2 disdrometer",
            "titleFontSize": 16.6,
            "titleFontStyle": "italic",
            "titleFontWeight": "normal",
            "titlePadding": 6
          }
        },
        "y": {"field": "z", "type": "quantitative", "axis": null}
      }
    },
    {
      "data": {"name": "arc"},
      "mark": {
        "type": "line",
        "interpolate": "monotone",
        "strokeWidth": 2.5,
        "stroke": {
          "gradient": "linear", "x1": 0, "y1": 0, "x2": 1, "y2": 0,
          "stops": [
            {"offset": 0, "color": "#7ecac6"},
            {"offset": 0.45, "color": "#1f6d7a"},
            {"offset": 1, "color": "#14143c"}
          ]
        }
      },
      "encoding": {
        "x": {"field": "t", "type": "quantitative", "axis": null},
        "y": {"field": "z", "type": "quantitative", "axis": null}
      }
    },
    {
      "data": {"values": [{}]},
      "mark": {"type": "rule", "color": "#14143c", "strokeWidth": 2.5},
      "encoding": {
        "x": {"datum": 1284.8, "type": "quantitative", "axis": null},
        "y": {"datum": 45.0, "type": "quantitative", "axis": null},
        "y2": {"datum": 36.6}
      }
    },
    {
      "data": {"values": [{}]},
      "mark": {"type": "text", "text": "A\u2004C\u2004T\u2004R\u2004I\u2004S", "font": "Lato", "fontSize": 30, "color": "#14143c", "align": "center", "baseline": "middle"},
      "encoding": {
        "x": {"datum": 1237.1, "type": "quantitative", "axis": null},
        "y": {"datum": 37.7, "type": "quantitative", "axis": null}
      }
    },
    {
      "data": {"values": [{}]},
      "mark": {"type": "text", "text": "CCRES", "font": "DejaVu Sans", "fontSize": 16, "color": "#14143c", "align": "center", "baseline": "middle"},
      "encoding": {
        "x": {"datum": 1238.5, "type": "quantitative", "axis": null},
        "y": {"datum": 35.2, "type": "quantitative", "axis": null}
      }
    }
  ]
}
